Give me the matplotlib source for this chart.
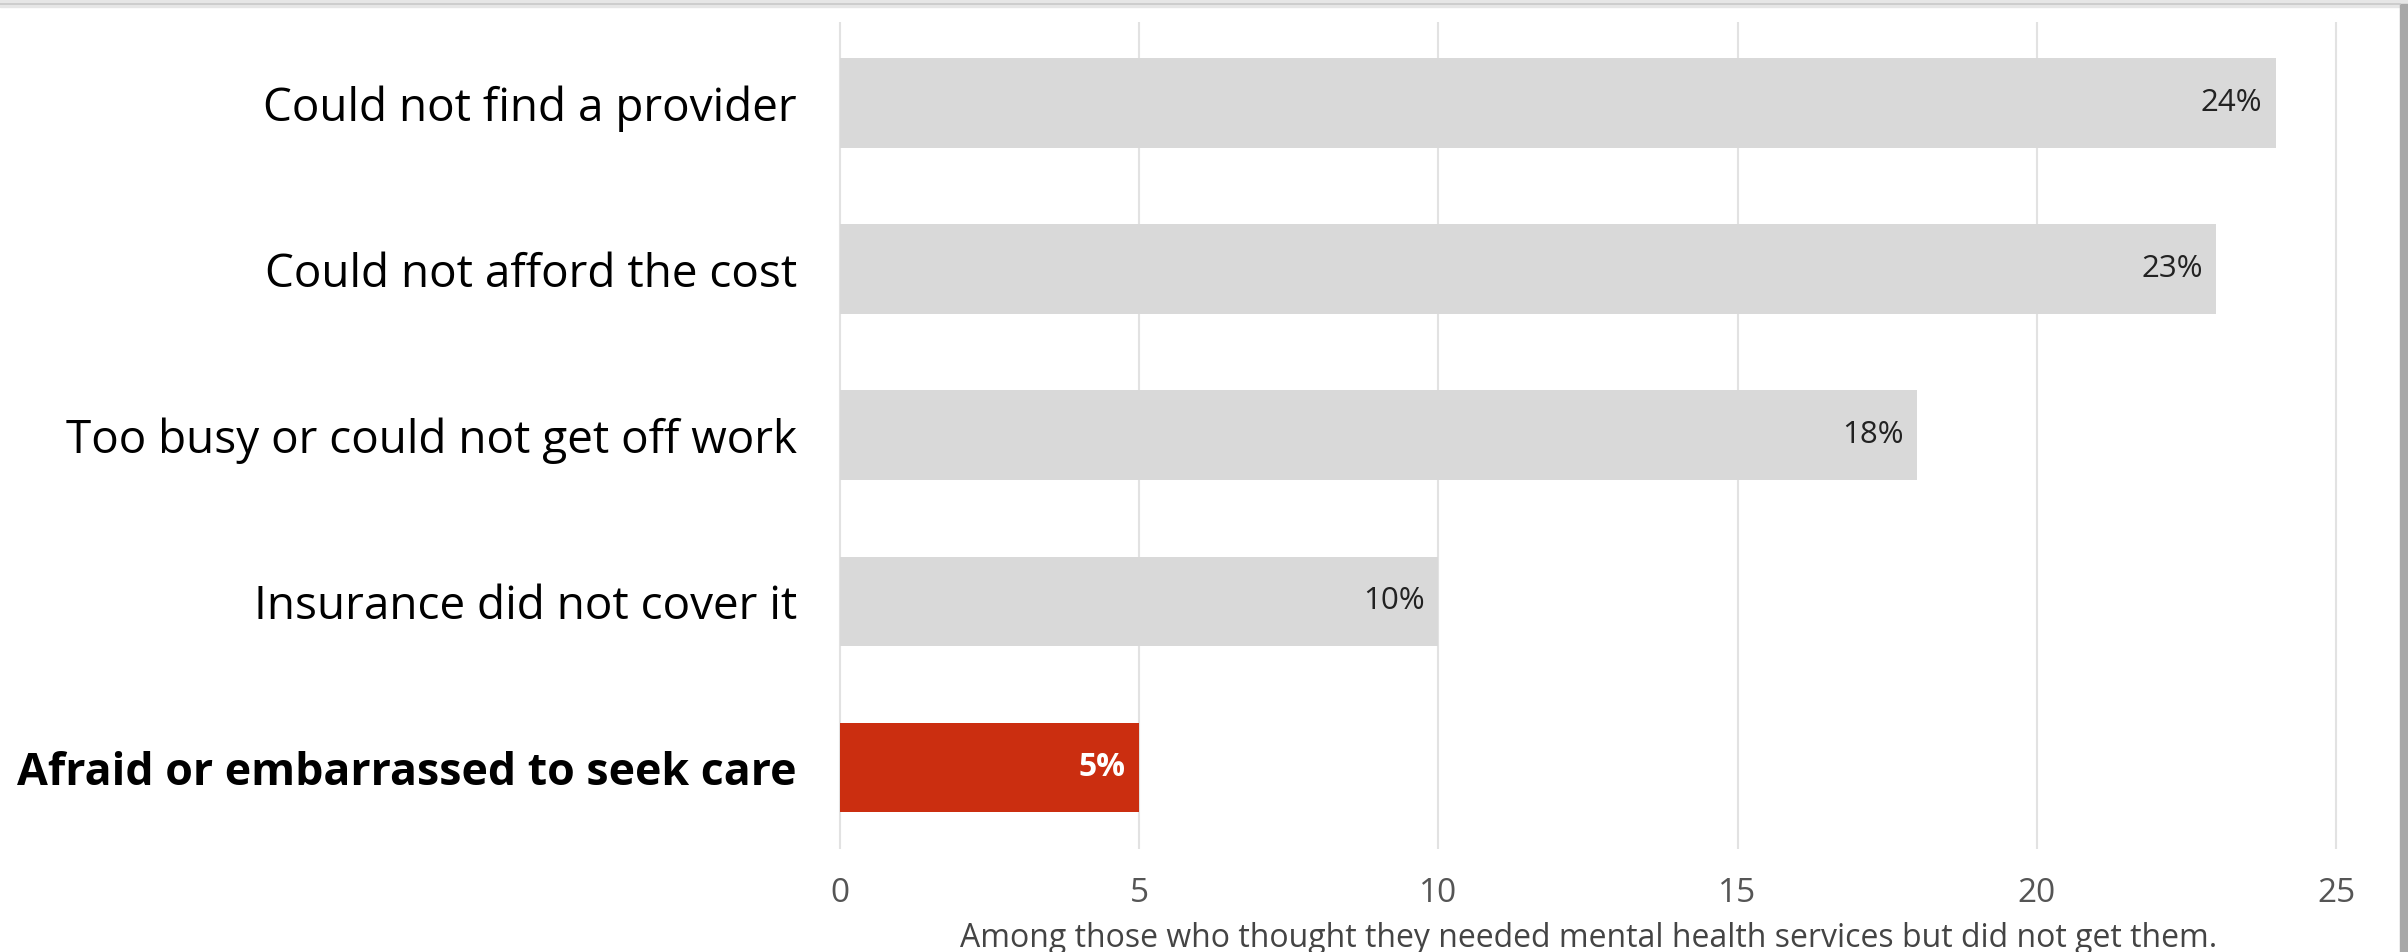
import matplotlib.pyplot as plt
from matplotlib.lines import Line2D
from matplotlib.patches import Rectangle

plt.rcParams['font.family'] = ['Open Sans', 'DejaVu Sans']

reasons = ['Could not find a provider', 'Could not afford the cost',
           'Too busy or could not get off work', 'Insurance did not cover it',
           'Afraid or embarrassed to seek care']
values = [24, 23, 18, 10, 5]
highlight = 'Afraid or embarrassed to seek care'
xticks = [0, 5, 10, 15, 20, 25]
caption = 'Among those who thought they needed mental health services but did not get them.'

grey = '#d9d9d9'
red = '#cb2e10'

fig = plt.figure(figsize=(24.08, 9.52), dpi=100)
ax = fig.add_axes([0.3482, 0.1082, 0.6232, 0.8692])

ypos = list(range(len(reasons)))
colors = [red if r == highlight else grey for r in reasons]
bars = ax.barh(ypos, values, height=0.54, color=colors, zorder=2)

for i, (r, v) in enumerate(zip(reasons, values)):
    is_hl = r == highlight
    ax.annotate(f'{v}%', (v, i), xytext=(-10, 0), textcoords='offset points',
                ha='right', va='center', fontsize=23 if is_hl else 22.5,
                color='white' if is_hl else '#222222',
                fontweight='bold' if is_hl else 'normal')

ax.set_ylim(len(reasons) - 0.51, -0.49)
ax.set_xlim(-0.02, 25.05)
ax.set_yticks(ypos)
ax.set_yticklabels(reasons, fontsize=33, color='black')
for lbl in ax.get_yticklabels():
    if lbl.get_text() == highlight:
        lbl.set_fontweight('bold')
        lbl.set_fontsize(32.2)
ax.set_xticks(xticks)
ax.set_xticklabels([str(t) for t in xticks], fontsize=24, color='#555555')
ax.tick_params(axis='y', length=0, pad=30)
ax.tick_params(axis='x', length=0, pad=20)
ax.grid(axis='x', color='#e2e2e2', linewidth=1.5, zorder=0)
for s in ax.spines.values():
    s.set_visible(False)

ax.set_xlabel(caption, fontsize=23, color='#444444', labelpad=9)

# card frame with a soft shadow on top and right
fig.add_artist(Rectangle((0, 0.993), 1, 0.007, transform=fig.transFigure,
                         color='#e6e6e6', zorder=0))
fig.add_artist(Line2D([0, 0.9965], [0.9955, 0.9955], transform=fig.transFigure,
                      color='#c8c8c8', linewidth=1.2))
fig.add_artist(Rectangle((0.9965, 0), 0.0035, 0.996, transform=fig.transFigure,
                         color='#a8a8a8', zorder=0))

fig.savefig('out.png', dpi=100)
